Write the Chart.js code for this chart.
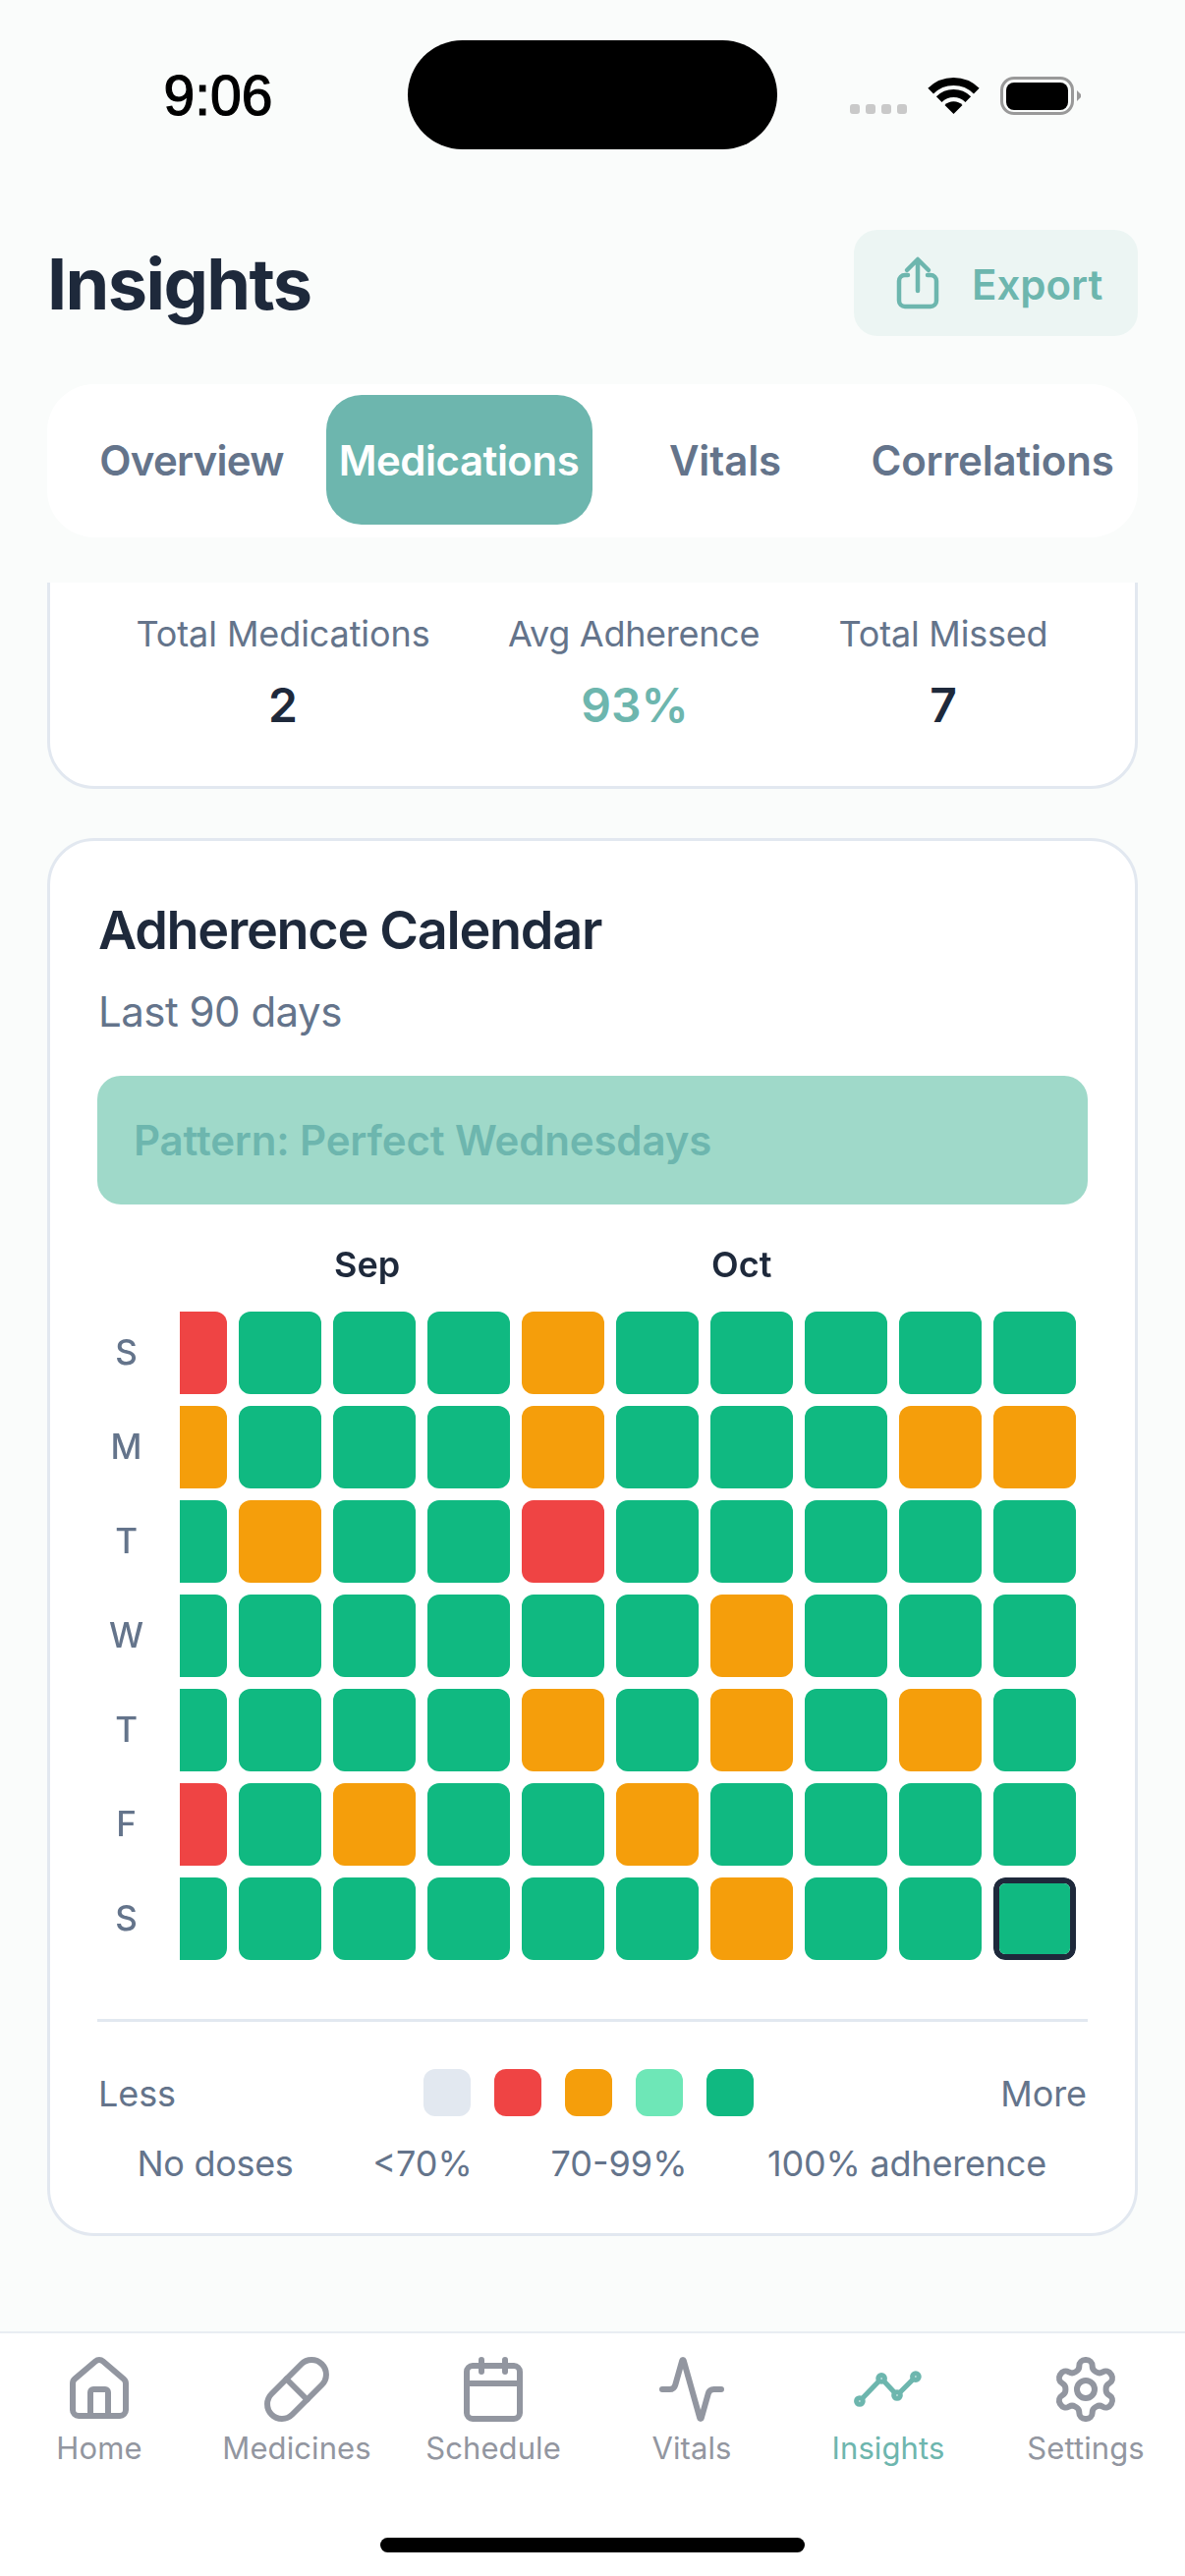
<!DOCTYPE html>
<html><head><meta charset="utf-8">
<script src="https://cdn.jsdelivr.net/npm/chart.js@4"></script>
<style>
html,body{margin:0;padding:0;width:1206px;height:2622px;overflow:hidden;background:#FAFCFB;font-family:Inter,sans-serif}
#root{position:relative;width:1206px;height:2622px;overflow:hidden}
.b{position:absolute;box-sizing:border-box}
.t{position:absolute;white-space:nowrap;line-height:1.2}
svg{position:absolute;overflow:visible}
canvas{position:absolute;left:0;top:1240px}
</style></head><body><div id="root">
<!-- cards -->
<div class="b" style="left:48px;top:500px;width:1110px;height:303px;background:#fff;border:3px solid #E2E8F0;border-radius:48px"></div>
<div class="b" style="left:0;top:0;width:1206px;height:593px;background:#FAFCFB"></div>
<div class="b" style="left:48px;top:853px;width:1110px;height:1423px;background:#fff;border:3px solid #E2E8F0;border-radius:48px"></div>
<div class="b" style="left:99px;top:1095px;width:1008px;height:131px;background:#9FD9C9;border-radius:24px"></div>
<div class="b" style="left:99px;top:2055px;width:1008px;height:3px;background:#E2E8F0"></div>
<!-- status bar -->
<div class="b" style="left:415px;top:41px;width:376px;height:111px;background:#000;border-radius:56px"></div>
<div class="b" style="left:865px;top:106px;width:10px;height:10px;background:#C9C9C9;border-radius:3px"></div>
<div class="b" style="left:881px;top:106px;width:10px;height:10px;background:#C9C9C9;border-radius:3px"></div>
<div class="b" style="left:897px;top:106px;width:10px;height:10px;background:#C9C9C9;border-radius:3px"></div>
<div class="b" style="left:913px;top:106px;width:10px;height:10px;background:#C9C9C9;border-radius:3px"></div>
<svg style="left:945px;top:79px" width="51" height="37" viewBox="0 0 51 37"><path d="M2.2 13.7A33 33 0 0 1 48.8 13.7" fill="none" stroke="#000" stroke-width="8"/><path d="M10.7 22.2A21 21 0 0 1 40.3 22.2" fill="none" stroke="#000" stroke-width="8"/><path d="M25.5 37L16.5 28A12.7 12.7 0 0 1 34.5 28Z" fill="#000"/></svg>
<div class="b" style="left:1018px;top:78px;width:75px;height:39px;border:3.5px solid #999;border-radius:14px"></div>
<div class="b" style="left:1024px;top:84px;width:63px;height:28px;background:#000;border-radius:8px"></div>
<svg style="left:1096px;top:92px" width="5" height="11" viewBox="0 0 5 11"><path d="M0 0L4 4V7L0 11Z" fill="#999"/></svg>
<!-- export -->
<div class="b" style="left:869px;top:234px;width:289px;height:108px;background:#ECF5F3;border-radius:24px"></div>
<svg style="left:913px;top:262px" width="42" height="52" viewBox="0 0 42 52" fill="none" stroke="#6DB6AE" stroke-width="4.5" stroke-linecap="round" stroke-linejoin="round"><path d="M11 18H8a6 6 0 0 0-6 6v20a6 6 0 0 0 6 6h26a6 6 0 0 0 6-6V24a6 6 0 0 0-6-6h-3"/><path d="M21 34V3M10 13L21 2L32 13"/></svg>
<!-- tabs -->
<div class="b" style="left:48px;top:391px;width:1110px;height:156px;background:#fff;border-radius:48px"></div>
<div class="b" style="left:332px;top:402px;width:271px;height:132px;background:#6DB6AE;border-radius:36px"></div>
<!-- tab bar -->
<div class="b" style="left:0;top:2373px;width:1206px;height:249px;background:#fff;border-top:2px solid #E8EDF2"></div>
<div class="b" style="left:387px;top:2583px;width:432px;height:15px;background:#000;border-radius:8px"></div>
<svg style="left:65px;top:2396px" width="72" height="72" viewBox="0 0 24 24" fill="none" stroke="#9296A0" stroke-width="2" stroke-linecap="round" stroke-linejoin="round"><path d="M15 21v-8a1 1 0 0 0-1-1h-4a1 1 0 0 0-1 1v8"/><path d="M3 10a2 2 0 0 1 .709-1.528l7-5.999a2 2 0 0 1 2.582 0l7 5.999A2 2 0 0 1 21 10v9a2 2 0 0 1-2 2H5a2 2 0 0 1-2-2z"/></svg>
<svg style="left:266px;top:2396px" width="72" height="72" viewBox="0 0 24 24" fill="none" stroke="#9296A0" stroke-width="2" stroke-linecap="round" stroke-linejoin="round"><path d="m10.5 20.5 10-10a4.95 4.95 0 1 0-7-7l-10 10a4.95 4.95 0 1 0 7 7Z"/><path d="m8.5 8.5 7 7"/></svg>
<svg style="left:466px;top:2396px" width="72" height="72" viewBox="0 0 24 24" fill="none" stroke="#9296A0" stroke-width="2" stroke-linecap="round" stroke-linejoin="round"><path d="M8 2v4M16 2v4"/><rect x="3" y="4" width="18" height="18" rx="2"/><path d="M3 10h18"/></svg>
<svg style="left:668px;top:2396px" width="72" height="72" viewBox="0 0 24 24" fill="none" stroke="#9296A0" stroke-width="2" stroke-linecap="round" stroke-linejoin="round"><path d="M22 12h-2.48a2 2 0 0 0-1.93 1.46l-2.35 8.36a.25.25 0 0 1-.48 0L9.24 2.18a.25.25 0 0 0-.48 0l-2.35 8.36A2 2 0 0 1 4.49 12H2"/></svg>
<svg style="left:868px;top:2396px" width="72" height="72" viewBox="0 0 24 24" fill="none" stroke="#6DB6AE" stroke-width="1.7" stroke-linecap="round" stroke-linejoin="round"><path d="M2.3 16L9.7 8.3L15 14L21.3 7.7"/><g fill="#fff"><circle cx="2.3" cy="16" r="1.1"/><circle cx="9.7" cy="8.3" r="1.1"/><circle cx="15" cy="14" r="1.1"/><circle cx="21.3" cy="7.7" r="1.1"/></g></svg>
<svg style="left:1069px;top:2396px" width="72" height="72" viewBox="0 0 24 24" fill="none" stroke="#9296A0" stroke-width="2" stroke-linecap="round" stroke-linejoin="round"><path d="M12.22 2h-.44a2 2 0 0 0-2 2v.18a2 2 0 0 1-1 1.73l-.43.25a2 2 0 0 1-2 0l-.15-.08a2 2 0 0 0-2.73.73l-.22.38a2 2 0 0 0 .73 2.73l.15.1a2 2 0 0 1 1 1.72v.51a2 2 0 0 1-1 1.74l-.15.09a2 2 0 0 0-.73 2.73l.22.38a2 2 0 0 0 2.73.73l.15-.08a2 2 0 0 1 2 0l.43.25a2 2 0 0 1 1 1.73V20a2 2 0 0 0 2 2h.44a2 2 0 0 0 2-2v-.18a2 2 0 0 1 1-1.73l.43-.25a2 2 0 0 1 2 0l.15.08a2 2 0 0 0 2.73-.73l.22-.39a2 2 0 0 0-.73-2.73l-.15-.08a2 2 0 0 1-1-1.74v-.5a2 2 0 0 1 1-1.74l.15-.09a2 2 0 0 0 .73-2.73l-.22-.38a2 2 0 0 0-2.73-.73l-.15.08a2 2 0 0 1-2 0l-.43-.25a2 2 0 0 1-1-1.73V4a2 2 0 0 0-2-2z"/><circle cx="12" cy="12" r="3"/></svg>
<canvas id="c" width="1206" height="800"></canvas>
</div>
<script>
// ---- chart data ----
const monthLabels = ['', '', 'Sep', '', '', '', 'Oct', '', '', ''];
const dayLabels = ['S', 'M', 'T', 'W', 'T', 'F', 'S'];
// adherence level per week column: 0 no doses, 1 <70%, 2 70-99%, 3 (light), 4 100%
const sunday    = [1, 4, 4, 4, 2, 4, 4, 4, 4, 4];
const monday    = [2, 4, 4, 4, 2, 4, 4, 4, 2, 2];
const tuesday   = [4, 2, 4, 4, 1, 4, 4, 4, 4, 4];
const wednesday = [4, 4, 4, 4, 4, 4, 2, 4, 4, 4];
const thursday  = [4, 4, 4, 4, 2, 4, 2, 4, 2, 4];
const friday    = [1, 4, 2, 4, 4, 2, 4, 4, 4, 4];
const saturday  = [4, 4, 4, 4, 4, 4, 2, 4, 4, 4];
const levelColors = ['#E2E8F0', '#EF4444', '#F59E0B', '#6EE7B7', '#10B981'];

// ---- page text ----
const root = document.getElementById('root');
function txt(s, x, cy, size, weight, color, align, ls, extra) {
  const d = document.createElement('div');
  d.className = 't';
  d.textContent = s;
  d.style.cssText = `font-size:${size}px;font-weight:${weight};color:${color};top:${cy - size * 0.6}px;letter-spacing:${ls || 0}px;` +
    (align === 'c' ? `left:${x}px;transform:translateX(-50%);` : align === 'r' ? `right:${1206 - x}px;` : `left:${x}px;`) + (extra || '');
  root.appendChild(d);
}
const slate = '#64748B', ink = '#1E293B', teal = '#6DB6AE', gray = '#9296A0';
txt('9:06', 222, 97, 57, 400, '#000', 'c', 0, 'font-family:"Liberation Sans";-webkit-text-stroke:1.2px #000;');
txt('Insights', 48, 289, 72, 700, ink, 'l', -1.6);
txt('Export', 989, 290, 42, 600, teal, 'l', 0);
txt('Overview', 195, 469, 42, 600, slate, 'c', -0.75);
txt('Medications', 467, 469, 42, 600, '#fff', 'c', -0.5);
txt('Vitals', 738, 469, 42, 600, slate, 'c', -0.1);
txt('Correlations', 1010, 469, 42, 600, slate, 'c', -0.2);
txt('Total Medications', 288, 646, 36, 400, slate, 'c', -0.1);
txt('Avg Adherence', 645, 646, 36, 400, slate, 'c', -0.3);
txt('Total Missed', 960, 646, 36, 400, slate, 'c', -0.2);
txt('2', 288, 718, 48, 600, ink, 'c');
txt('93%', 646, 718, 48, 600, teal, 'c');
txt('7', 960, 718, 48, 600, ink, 'c');
txt('Adherence Calendar', 100, 947, 54, 600, ink, 'l', -1.3);
txt('Last 90 days', 100, 1030, 42, 400, slate, 'l', -0.5);
txt('Pattern: Perfect Wednesdays', 136, 1161, 42, 600, teal, 'l', -0.15);
txt('Less', 100, 2132, 36, 400, slate, 'l', -0.1);
txt('More', 1106, 2132, 36, 400, slate, 'r', -0.1);
txt('No doses', 219, 2203, 36, 400, slate, 'c', -0.3);
txt('<70%', 430, 2203, 36, 400, slate, 'c');
txt('70-99%', 630, 2203, 36, 400, slate, 'c');
txt('100% adherence', 923, 2203, 36, 400, slate, 'c', -0.2);
[['Home',101],['Medicines',302],['Schedule',502],['Vitals',704],['Insights',904],['Settings',1105]].forEach(([s,x]) =>
  txt(s, x, 2492, 31, 400, s === 'Insights' ? teal : gray, 'c', 0.1));
levelColors.forEach((c, i) => {
  const d = document.createElement('div');
  d.className = 'b';
  d.style.cssText = `left:${431 + i * 72}px;top:2106px;width:48px;height:48px;border-radius:12px;background:${c}`;
  root.appendChild(d);
});

// ---- heatmap ----
const rows = [sunday, monday, tuesday, wednesday, thursday, friday, saturday];
const cellInset = 0.0625;
const lastWeek = monthLabels.length - 1, lastDay = rows.length - 1;
const datasets = rows.map((row, d) => ({
  label: dayLabels[d],
  data: row.map(() => [d + cellInset, d + 1 - cellInset]),
  backgroundColor: row.map(l => levelColors[l]),
  borderColor: '#1E293B',
  borderWidth: c => (c.datasetIndex === lastDay && c.dataIndex === lastWeek) ? 6 : 0,
  borderRadius: 12,
  borderSkipped: false,
  inflateAmount: 0,
  barThickness: 84,
  grouped: false,
  clip: { left: -42, top: false, right: false, bottom: false }
}));
new Chart(document.getElementById('c'), {
  type: 'bar',
  data: { labels: monthLabels, datasets },
  options: {
    responsive: false, animation: false, devicePixelRatio: 1,
    layout: { padding: { left: 100, right: 105, top: 0, bottom: 39 } },
    plugins: { legend: { display: false }, tooltip: { enabled: false } },
    scales: {
      x: {
        position: 'top', offset: true,
        grid: { display: false, drawTicks: false }, border: { display: false },
        afterFit: s => { s.height = 89; },
        ticks: { autoSkip: false, maxRotation: 0, align: 'start', labelOffset: -41, padding: 18,
          color: ink, font: { family: 'Inter', size: 36, weight: '600' } }
      },
      y: {
        min: 0, max: 7, reverse: true,
        grid: { display: false, drawTicks: false }, border: { display: false },
        afterFit: s => { s.width = 41; },
        afterBuildTicks: s => { s.ticks = dayLabels.map((_, i) => ({ value: i + 0.52 })); },
        ticks: { mirror: true, crossAlign: 'center', padding: -30, autoSkip: false, color: slate,
          font: { family: 'Inter', size: 35, weight: '500' },
          callback: (v, i) => dayLabels[i] }
      }
    }
  }
});
</script>
</body></html>
